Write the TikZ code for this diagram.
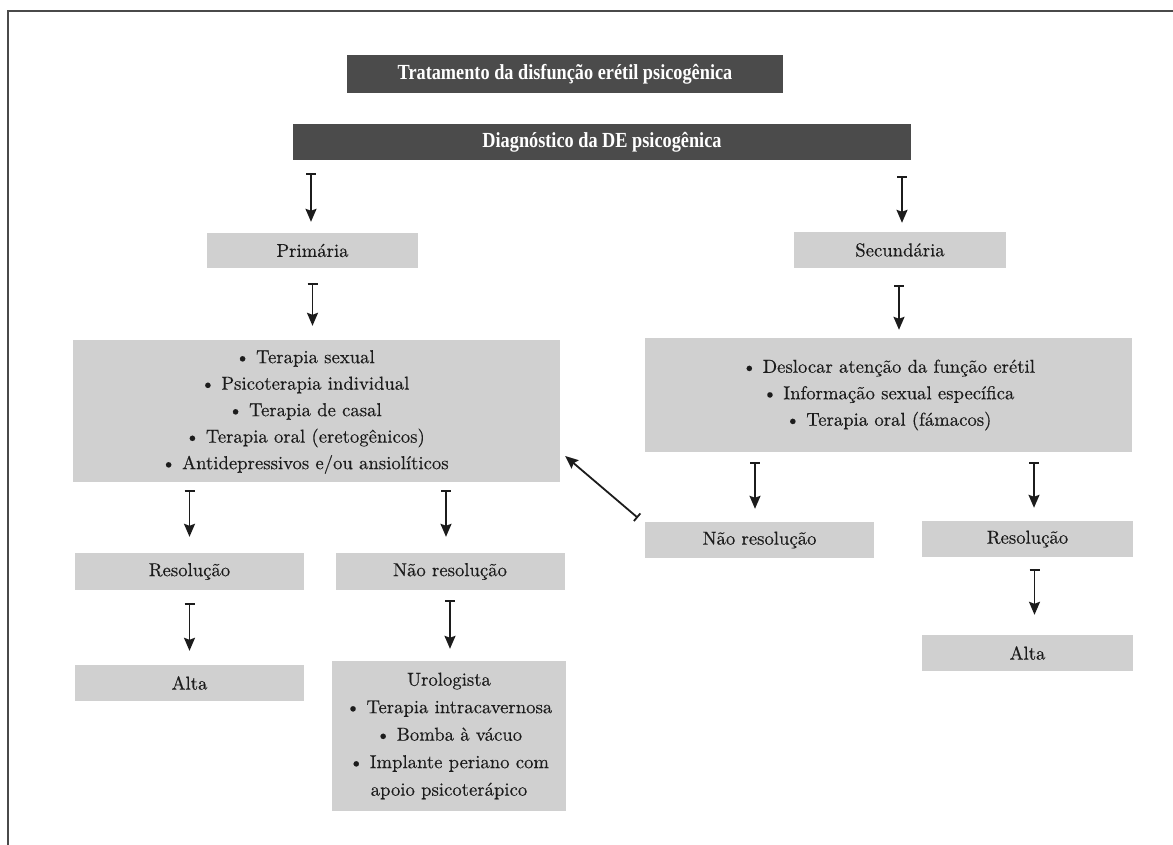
\documentclass[tikz,border=0pt]{standalone}
\usepackage{fontspec}
\setmainfont{lmroman10-regular.otf}[FakeBold=0.3]
\newfontfamily\titlefont{Liberation Serif}[FakeStretch=0.85]
\usetikzlibrary{arrows.meta,calc}
\definecolor{boxgray}{HTML}{D0D0D0}
\definecolor{titlegray}{HTML}{4B4B4B}
\definecolor{ink}{HTML}{1C1C1C}
\definecolor{framegray}{HTML}{4A4A4A}
\newcommand{\bodysize}{\fontsize{18.7}{26.5}\selectfont}
\tikzset{
  lbox/.style={fill=boxgray, draw=none, inner sep=0pt, text=ink,
    font=\bodysize, align=center},
  dbox/.style={fill=titlegray, draw=none, inner sep=0pt, text=white,
    font=\titlefont\bfseries\fontsize{21.5}{24}\selectfont},
  txt/.style={inner sep=0pt, text=ink, font=\bodysize, align=center},
  arr/.style={draw=ink, line width=1.8pt,
    {Bar[width=10pt]}-{Stealth[length=13pt,width=11pt,inset=2pt]}},
}
\begin{document}
\begin{tikzpicture}[x=1pt,y=-1pt]
\useasboundingbox (0,0) rectangle (1173,845);
\draw[framegray, line width=1.5pt] (1173,11) -- (8,11) -- (8,845);

% titles
\node[dbox, minimum width=436pt, minimum height=38pt] (t1) at (565,74)
  {Tratamento da disfunção erétil psicogênica};
\node[dbox, minimum width=618pt, minimum height=36pt] (t2) at (602,142)
  {Diagnóstico da DE psicogênica};

% left branch
\node[lbox, minimum width=211pt, minimum height=35pt] (prim) at (312.5,250.5) {Primária};
\node[lbox, minimum width=487pt, minimum height=142pt] (bigL) at (316.5,411) {};
\node[txt] (bigLt) at (305,412) {\textbullet\ Terapia sexual\\
  \textbullet\ Psicoterapia individual\\
  \textbullet\ Terapia de casal\\
  \textbullet\ Terapia oral (eretogênicos)\\
  \textbullet\ Antidepressivos e/ou ansiolíticos};
\node[lbox, minimum width=229pt, minimum height=37pt] (res1) at (189.5,571.5) {Resolução};
\node[lbox, minimum width=229pt, minimum height=37pt] (nr1) at (450,571.5) {Não resolução};
\node[lbox, minimum width=229pt, minimum height=36pt] (alta1) at (189.5,683) {Alta};
\node[lbox, minimum width=234pt, minimum height=150pt, font=\fontsize{18.7}{27.5}\selectfont] (uro) at (449,736)
  {Urologista\\
   \textbullet\ Terapia intracavernosa\\
   \textbullet\ Bomba à vácuo\\
   \textbullet\ Implante periano com\\
   apoio psicoterápico};

% right branch
\node[lbox, minimum width=212pt, minimum height=36pt] (sec) at (900,250) {Secundária};
\node[lbox, minimum width=487pt, minimum height=114pt] (bigR) at (888.5,395)
  {\textbullet\ Deslocar atenção da função erétil\\
   \textbullet\ Informação sexual específica\\
   \textbullet\ Terapia oral (fámacos)};
\node[lbox, minimum width=229pt, minimum height=36pt] (nr2) at (759.5,540) {Não resolução};
\node[lbox, minimum width=211pt, minimum height=36pt] (res2) at (1027.5,539) {Resolução};
\node[lbox, minimum width=211pt, minimum height=36pt] (alta2) at (1027.5,653) {Alta};

% arrows left
\draw[arr, shorten <=13pt, shorten >=11pt] ([xshift=-1.5pt]prim.north |- t2.south) -- ([xshift=-1.5pt]prim.north);
\draw[arr, shorten <=15pt, shorten >=14pt] (prim.south) -- (prim.south |- bigL.north);
\draw[arr, shorten <=8pt, shorten >=16pt] (res1.north |- bigL.south) -- (res1.north);
\draw[arr, shorten <=8pt, shorten >=16pt] ([xshift=-4pt]nr1.north |- bigL.south) -- ([xshift=-4pt]nr1.north);
\draw[arr, shorten <=13pt, shorten >=14pt] (res1.south) -- (alta1.north);
\draw[arr, shorten <=10pt, shorten >=12pt] (nr1.south) -- (nr1.south |- uro.north);

% arrows right
\draw[arr, shorten <=16pt, shorten >=9pt] ([xshift=2pt]sec.north |- t2.south) -- ([xshift=2pt]sec.north);
\draw[arr, shorten <=17pt, shorten >=8pt] ([xshift=-1pt]sec.south) -- ([xshift=-1pt]sec.south |- bigR.north);
\draw[arr, shorten <=10pt, shorten >=13pt] ([xshift=-4.5pt]nr2.north |- bigR.south) -- ([xshift=-4.5pt]nr2.north);
\draw[arr, shorten <=10pt, shorten >=13pt] ([xshift=6.5pt]res2.north |- bigR.south) -- ([xshift=6.5pt]res2.north);
\draw[arr, shorten <=12pt, shorten >=20pt] ([xshift=7pt]res2.south) -- ([xshift=7pt]alta2.north);

% diagonal feedback arrow
\draw[arr] ($(nr2.north west)+(-7,-4)$) -- ($(bigL.east)+(5,45)$);
\end{tikzpicture}
\end{document}
